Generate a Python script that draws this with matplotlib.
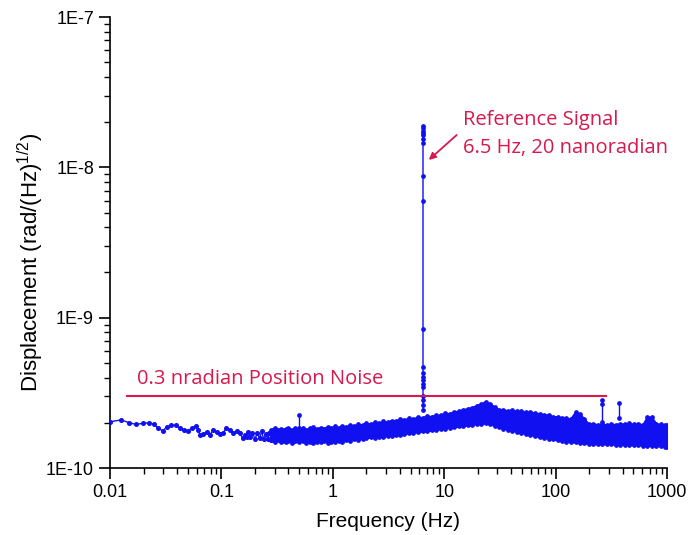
import matplotlib
matplotlib.use("Agg")
import matplotlib.pyplot as plt
from matplotlib.ticker import FixedLocator, LogLocator, NullFormatter

plt.rcParams["font.family"] = ["Liberation Sans", "DejaVu Sans"]
plt.rcParams["mathtext.fontset"] = "custom"
plt.rcParams["mathtext.rm"] = "Liberation Sans"

# sparse low-frequency part of the spectrum (units: 1E-10 rad/Hz^1/2)
low_freq = [0.01, 0.0126, 0.0149, 0.0171, 0.0196, 0.0225, 0.0249, 0.0271, 0.0297,
            0.0323, 0.0353, 0.0391, 0.0425, 0.0464, 0.0503, 0.054, 0.059, 0.062,
            0.0641, 0.0687, 0.0736, 0.0789, 0.0844, 0.0904, 0.097, 0.104, 0.111,
            0.119, 0.128, 0.137, 0.147, 0.155, 0.162, 0.17, 0.175, 0.18, 0.19,
            0.2, 0.21, 0.22, 0.23, 0.24, 0.25, 0.26, 0.27, 0.28]
low_disp = [2.03, 2.09, 2.00, 1.95, 1.98, 2.00, 1.95, 1.84, 1.77,
            1.87, 1.92, 1.92, 1.84, 1.79, 1.77, 1.84, 1.91, 1.79,
            1.66, 1.68, 1.74, 1.66, 1.79, 1.74, 1.68, 1.72, 1.84,
            1.79, 1.72, 1.76, 1.70, 1.58, 1.66, 1.62, 1.74, 1.60, 1.72,
            1.56, 1.70, 1.58, 1.75, 1.55, 1.68, 1.57, 1.72, 1.53]

# dense noise band: envelope
band_freq = [0.28, 0.3, 0.32, 0.34, 0.36, 0.38, 0.4, 0.43, 0.46, 0.5,
             0.54, 0.58, 0.62, 0.67, 0.72, 0.78, 0.84, 0.9, 0.97, 1.05,
             1.13, 1.22, 1.32, 1.43, 1.55, 1.7, 1.85, 2.0, 2.2, 2.4,
             2.6, 2.85, 3.1, 3.4, 3.7, 4.0, 4.4, 4.8, 5.3, 5.8,
             6.4, 7.0, 7.7, 8.5, 9.3, 10.2, 11.2, 12.3, 13.5, 14.8,
             16.2, 17.8, 19.5, 21.4, 23.5, 25.8, 28.3, 31, 34, 37.3,
             41, 45, 49.4, 54.2, 59.5, 65.3, 71.7, 78.7, 86.4, 94.8,
             104, 114, 125, 137, 151, 165, 181, 199, 218, 240,
             263, 289, 317, 348, 382, 419, 460, 505, 554, 608,
             667, 732, 804, 882, 968, 1000]
band_high = [1.80, 1.84, 1.79, 1.83, 1.78, 1.82, 1.85, 1.80, 1.84, 1.81,
             1.86, 1.80, 1.84, 1.87, 1.82, 1.86, 1.83, 1.88, 1.85, 1.89,
             1.86, 1.90, 1.88, 1.93, 1.90, 1.95, 1.93, 1.98, 1.96, 2.01,
             1.99, 2.04, 2.02, 2.07, 2.05, 2.11, 2.09, 2.14, 2.12, 2.18,
             2.16, 2.21, 2.20, 2.25, 2.24, 2.31, 2.30, 2.36, 2.38, 2.44,
             2.48, 2.52, 2.60, 2.66, 2.76, 2.68, 2.55, 2.45, 2.44, 2.40,
             2.42, 2.38, 2.39, 2.35, 2.37, 2.31, 2.30, 2.26, 2.25, 2.20,
             2.19, 2.16, 2.14, 2.12, 2.35, 2.30, 2.12, 1.96, 1.97, 1.94,
             1.95, 1.93, 1.96, 1.94, 1.97, 1.95, 1.98, 1.95, 1.97, 1.94,
             2.18, 2.18, 1.96, 1.95, 1.93, 1.92]
band_low = [1.53, 1.49, 1.54, 1.50, 1.52, 1.48, 1.51, 1.47, 1.52, 1.49,
            1.51, 1.47, 1.50, 1.46, 1.50, 1.48, 1.51, 1.47, 1.50, 1.49,
            1.52, 1.50, 1.53, 1.52, 1.55, 1.54, 1.57, 1.58, 1.60, 1.59,
            1.62, 1.61, 1.64, 1.63, 1.66, 1.67, 1.69, 1.70, 1.72, 1.73,
            1.75, 1.76, 1.78, 1.79, 1.82, 1.83, 1.86, 1.87, 1.89, 1.91,
            1.92, 1.94, 1.96, 1.97, 1.98, 1.95, 1.91, 1.87, 1.83, 1.80,
            1.77, 1.74, 1.71, 1.69, 1.66, 1.64, 1.61, 1.59, 1.57, 1.55,
            1.53, 1.52, 1.50, 1.49, 1.48, 1.47, 1.46, 1.45, 1.45, 1.44,
            1.44, 1.44, 1.44, 1.43, 1.43, 1.43, 1.42, 1.42, 1.42, 1.41,
            1.41, 1.40, 1.40, 1.40, 1.39, 1.39]

# reference signal at 6.5 Hz
ref_freq = 6.5
ref_disp = [188, 182, 176, 170, 164, 155, 145, 88, 60, 8.4,
            4.72, 4.29, 4.05, 3.85, 3.65, 3.46, 3.03, 2.83, 2.63, 2.43]

# small spurious peaks
spike_freq = [0.5, 262, 370]
spike_disp = [[1.85, 2.25], [2.03, 2.65, 2.83], [2.14, 2.70]]

blue = "#1010f0"
red = "#d6194f"
label_font = ["Open Sans", "DejaVu Sans"]

fig = plt.figure(figsize=(6.93, 5.35), dpi=100)
ax = fig.add_axes([0.1587, 0.1252, 0.8038, 0.8428])

hi = [v * 1e-10 for v in band_high]
lo = [v * 1e-10 for v in band_low]
ax.fill_between(band_freq, lo, hi, color=blue, lw=1, edgecolor=blue, zorder=2)
ax.plot(band_freq, hi, color=blue, lw=1, marker="o", ms=2.4, zorder=2)
ax.plot(band_freq, lo, color=blue, lw=1, marker="o", ms=2.4, zorder=2)
ax.plot(low_freq, [v * 1e-10 for v in low_disp], color=blue, lw=1,
        marker="o", ms=2.6, zorder=3)
ax.plot([ref_freq] * len(ref_disp), [v * 1e-10 for v in ref_disp], color="#5252ff",
        lw=1.4, marker="o", ms=2.4, mfc=blue, mec=blue, zorder=3)
for f, vals in zip(spike_freq, spike_disp):
    ax.plot([f] * len(vals), [v * 1e-10 for v in vals], color=blue, lw=1,
            marker="o", ms=2.4, zorder=3)

# 0.3 nradian noise level
ax.plot([0.0142, 286], [3e-10, 3e-10], color=red, lw=1.5, zorder=4)
ax.text(0.0175, 3.91e-10, "0.3 nradian Position Noise", color=red, fontsize=14.5,
        family=label_font, va="center", ha="left")
ax.text(14.7, 2.07e-8, "Reference Signal", color=red, fontsize=14.5,
        family=label_font, va="center", ha="left")
ax.text(14.7, 1.35e-8, "6.5 Hz, 20 nanoradian", color=red, fontsize=14.5,
        family=label_font, va="center", ha="left")
ax.annotate("", xy=(6.97, 1.09e-8), xytext=(13.5, 1.69e-8),
            arrowprops=dict(arrowstyle="-|>", color=red, lw=1.3, mutation_scale=10))

ax.set_xscale("log")
ax.set_yscale("log")
ax.set_xlim(0.01, 1000)
ax.set_ylim(1e-10, 1e-7)

ax.xaxis.set_major_locator(FixedLocator([0.01, 0.1, 1, 10, 100, 1000]))
ax.set_xticklabels(["0.01", "0.1", "1", "10", "100", "1000"])
ax.yaxis.set_major_locator(FixedLocator([1e-10, 1e-9, 1e-8, 1e-7]))
ax.set_yticklabels(["1E-10", "1E-9", "1E-8", "1E-7"])
ax.xaxis.set_minor_locator(LogLocator(base=10, subs=range(2, 10)))
ax.yaxis.set_minor_locator(LogLocator(base=10, subs=range(2, 10)))
ax.xaxis.set_minor_formatter(NullFormatter())
ax.yaxis.set_minor_formatter(NullFormatter())

ax.spines["top"].set_visible(False)
ax.spines["right"].set_visible(False)
for s in ("left", "bottom"):
    ax.spines[s].set_linewidth(1.2)
ax.tick_params(which="major", direction="out", length=8, width=1.2, labelsize=13)
ax.tick_params(which="minor", direction="out", length=4, width=1)

ax.set_xlabel("Frequency (Hz)", fontsize=15, labelpad=8)
ax.set_ylabel(r"Displacement (rad/(Hz)$^{1/2}$)", fontsize=16)
ax.yaxis.set_label_coords(-0.115, 0.455)

fig.savefig("out.png", dpi=100)
